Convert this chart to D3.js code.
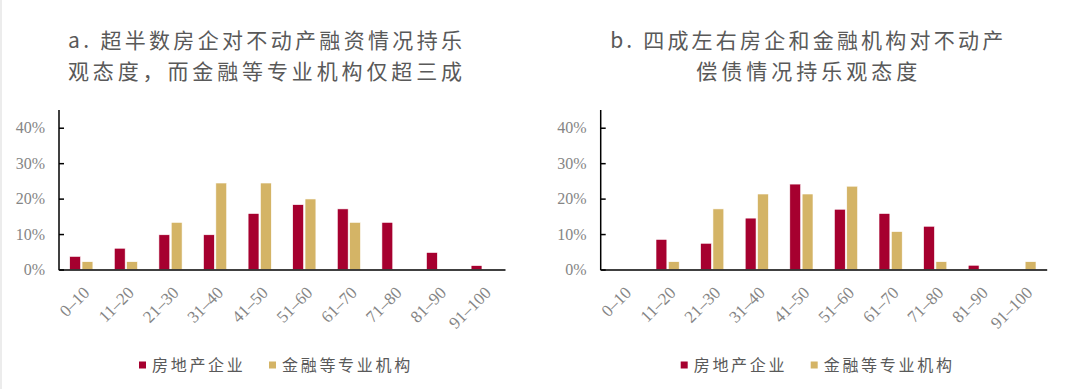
<!DOCTYPE html>
<html>
<head>
<meta charset="utf-8">
<script src="https://cdn.jsdelivr.net/npm/d3@7/dist/d3.min.js"></script>
<style>
  body { margin: 0; background: #fff; }
  svg { display: block; }
</style>
</head>
<body>
<div id="chart"></div>
<script>
// score ranges (x categories)
var categories = ["0–10","11–20","21–30","31–40","41–50","51–60","61–70","71–80","81–90","91–100"];
var seriesNames = ["房地产企业","金融等专业机构"];
var yTicks = [0, 10, 20, 30, 40];

// panel a: financing outlook (%)
var financingRealEstate = [3.7, 6.0, 9.8, 9.8, 15.8, 18.3, 17.1, 13.3, 4.8, 1.1];
var financingInstitutions = [2.2, 2.2, 13.3, 24.4, 24.4, 19.9, 13.3, 0, 0, 0];

// panel b: debt repayment outlook (%)
var repayRealEstate = [0, 8.5, 7.4, 14.5, 24.1, 17.0, 15.8, 12.2, 1.2, 0];
var repayInstitutions = [0, 2.2, 17.1, 21.3, 21.3, 23.5, 10.7, 2.2, 0, 2.2];

var titlesA = ["a. 超半数房企对不动产融资情况持乐", "观态度，而金融等专业机构仅超三成"];
var titlesB = ["b. 四成左右房企和金融机构对不动产", "偿债情况持乐观态度"];

var colors = ["#a6002f", "#d4b466"];

var W = 1080, H = 389;
var svg = d3.select("#chart").append("svg")
	.attr("width", W)
	.attr("height", H);

svg.append("rect")
	.attr("x", 0).attr("y", 0)
	.attr("width", 2).attr("height", H)
	.style("fill", "#ececec");

var cjk = "'Noto Sans CJK SC', 'Noto Sans', sans-serif";
var serif = "'Liberation Serif', 'DejaVu Serif', serif";

function drawPanel(left, right, titles, titleLens, s1, s2) {
	var g = svg.append("g");
	var center = (left + right) / 2;

	var y = d3.scaleLinear().domain([0, 45]).range([269.5, 110]);

	var x0 = d3.scaleBand()
		.domain(categories)
		.range([left, right])
		.paddingInner(0.48)
		.paddingOuter(0.24);

	var x1 = d3.scaleBand()
		.domain(seriesNames)
		.range([0, x0.bandwidth()])
		.paddingInner(0.12);

	//titles
	titles.forEach(function(t, i) {
		g.append("text")
			.attr("x", center - 17)
			.attr("y", 48 + i * 31)
			.attr("text-anchor", "middle")
			.attr("textLength", titleLens[i])
			.attr("lengthAdjust", "spacing")
			.style("font-family", cjk)
			.style("font-size", "21px")
			.style("fill", "#595959")
			.text(t);
	});

	//bars
	var rows = categories.map(function(c, i) {
		return { cat: c, vals: [s1[i], s2[i]] };
	});

	var groups = g.selectAll(".grp")
		.data(rows)
		.enter().append("g")
		.attr("class", "grp")
		.attr("transform", function(d) { return "translate(" + x0(d.cat) + ",0)"; });

	groups.selectAll("rect")
		.data(function(d) {
			return d.vals.map(function(v, k) { return { name: seriesNames[k], v: v, k: k }; });
		})
		.enter().append("rect")
		.filter(function(d) { return d.v > 0; })
		.attr("x", function(d) { return x1(d.name); })
		.attr("y", function(d) { return y(d.v); })
		.attr("width", x1.bandwidth())
		.attr("height", function(d) { return y(0) - y(d.v); })
		.style("fill", function(d) { return colors[d.k]; })
		.style("stroke", "#fff")
		.style("stroke-width", 0.6);

	//y axis
	var yAxis = d3.axisRight(y)
		.tickValues(yTicks)
		.tickSize(5)
		.tickFormat(function(d) { return d + "%"; });

	var ya = g.append("g")
		.attr("transform", "translate(" + left + ",0)")
		.call(yAxis);
	ya.select(".domain").remove();
	ya.selectAll(".tick line").style("stroke", "#000").style("stroke-width", 1.5);
	ya.selectAll(".tick text")
		.attr("x", -14)
		.attr("text-anchor", "end")
		.style("font-family", serif)
		.style("font-size", "16px")
		.style("fill", "#858585");

	g.append("line")
		.attr("x1", left).attr("x2", left)
		.attr("y1", 110).attr("y2", y(0) + 0.75)
		.style("stroke", "#000").style("stroke-width", 1.5);

	//x axis
	var xa = g.append("g")
		.attr("transform", "translate(0," + y(0) + ")")
		.call(d3.axisBottom(x0).tickSize(0).tickSizeOuter(0));
	xa.select(".domain")
		.style("stroke", "#000").style("stroke-width", 1.5);
	xa.selectAll(".tick text")
		.attr("text-anchor", "end")
		.attr("dy", "0.35em")
		.attr("y", 0)
		.attr("transform", "translate(5,20) rotate(-45)")
		.style("font-family", serif)
		.style("font-size", "17px")
		.style("fill", "#858585");

	//legend
	var lx = center - 143;
	var offsets = [0, 130];
	seriesNames.forEach(function(n, k) {
		g.append("rect")
			.attr("x", lx + offsets[k])
			.attr("y", 361.5)
			.attr("width", 7)
			.attr("height", 7)
			.style("fill", colors[k]);
		g.append("text")
			.attr("x", lx + offsets[k] + 13)
			.attr("y", 371)
			.style("font-family", cjk)
			.style("font-size", "16px")
			.style("letter-spacing", "2.7px")
			.style("fill", "#595959")
			.text(n);
	});
}

drawPanel(59, 505, titlesA, [394, 394], financingRealEstate, financingInstitutions);
drawPanel(600.7, 1046.7, titlesB, [393, 221], repayRealEstate, repayInstitutions);
</script>
</body>
</html>
